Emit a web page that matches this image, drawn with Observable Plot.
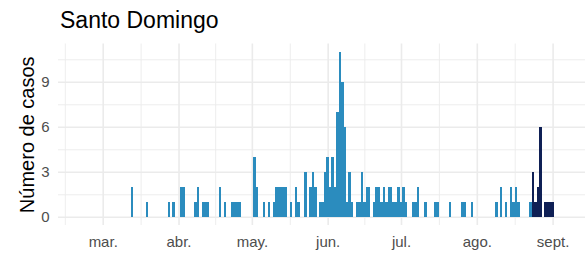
<!DOCTYPE html>
<html>
<head>
<meta charset="utf-8">
<script src="https://cdn.jsdelivr.net/npm/d3@7"></script>
<script src="https://cdn.jsdelivr.net/npm/@observablehq/plot@0.6"></script>
<style>
  html, body { margin: 0; padding: 0; background: #fff; }
  body { width: 585px; height: 256px; overflow: hidden; font-family: "Liberation Sans", Arial, sans-serif; }
  #titulo { height: 38px; box-sizing: border-box; padding: 8.8px 0 0 60px; font-size: 23px; line-height: 23px; color: #000; white-space: nowrap; }
  #grafico svg { display: block; }
</style>
</head>
<body>
<div id="titulo">Santo Domingo</div>
<div id="grafico"></div>
<script>
// ---- data ----
const fechas = [
  "2020-03-13","2020-03-19","2020-03-28","2020-03-30","2020-04-02","2020-04-03","2020-04-08","2020-04-09",
  "2020-04-11","2020-04-12","2020-04-13","2020-04-18","2020-04-20","2020-04-23","2020-04-24","2020-04-25",
  "2020-04-26","2020-05-02","2020-05-03","2020-05-06","2020-05-08","2020-05-10","2020-05-11","2020-05-12",
  "2020-05-13","2020-05-14","2020-05-15","2020-05-17","2020-05-19","2020-05-20","2020-05-23","2020-05-25",
  "2020-05-26","2020-05-27","2020-05-29","2020-05-30","2020-05-31","2020-06-01","2020-06-02","2020-06-03",
  "2020-06-04","2020-06-05","2020-06-06","2020-06-07","2020-06-08","2020-06-09","2020-06-10","2020-06-11",
  "2020-06-13","2020-06-14","2020-06-15","2020-06-16","2020-06-17","2020-06-18","2020-06-20","2020-06-21",
  "2020-06-22","2020-06-23","2020-06-24","2020-06-25","2020-06-26","2020-06-27","2020-06-28","2020-06-29",
  "2020-06-30","2020-07-01","2020-07-02","2020-07-03","2020-07-06","2020-07-07","2020-07-08","2020-07-11",
  "2020-07-15","2020-07-16","2020-07-21","2020-07-26","2020-07-27","2020-07-30","2020-08-09","2020-08-11",
  "2020-08-13","2020-08-15","2020-08-16","2020-08-17","2020-08-18","2020-08-23","2020-08-24","2020-08-25",
  "2020-08-26","2020-08-27","2020-08-29","2020-08-30","2020-08-31","2020-09-01"
];
const casos = [
  2,1,1,1,2,2,1,2,
  1,1,1,2,1,1,1,1,
  1,4,2,1,1,1,2,2,
  2,2,2,1,2,1,3,2,
  3,2,1,1,3,4,2,4,
  2,7,11,9,6,1,3,1,
  1,1,3,1,2,2,1,2,
  2,1,2,1,2,2,1,1,
  2,1,2,1,1,1,2,1,
  1,1,1,1,1,1,1,2,
  1,2,1,2,1,1,3,1,
  2,6,1,1,1,1
];
const inicioRecientes = "2020-08-24";           // darker bars from this date on
const mesesTicks = ["2020-03-01","2020-04-01","2020-05-01","2020-06-01","2020-07-01","2020-08-01","2020-09-01"];
const mesesEtiquetas = ["mar.","abr.","may.","jun.","jul.","ago.","sept."];
const yTicks = [0, 3, 6, 9];
const yMinor = [1.5, 4.5, 7.5, 10.5];
const xDominio = ["2020-02-11T17:00Z", "2020-09-14T06:00Z"];
const yDominio = [-0.55, 11.55];

// ---- build ----
const DIA = 864e5;
const datos = fechas.map((f, i) => ({fecha: new Date(f), n: casos[i], reciente: f >= inicioRecientes}));
const mayores = mesesTicks.map(d => new Date(d));
const ext = [
  new Date(+mayores[0] - (mayores[1] - mayores[0])),
  ...mayores,
  new Date(+mayores[mayores.length - 1] + (mayores[mayores.length - 1] - mayores[mayores.length - 2]))
];
const menores = d3.pairs(ext, (a, b) => new Date((+a + +b) / 2));
const etiqueta = new Map(mayores.map((d, i) => [+d, mesesEtiquetas[i]]));
const x1 = d => new Date(+d.fecha - 0.5 * DIA);
const x2 = d => new Date(+d.fecha + 0.5 * DIA);

const grid = "#ebebeb";
const chart = Plot.plot({
  width: 585,
  height: 218,
  marginLeft: 58,
  marginRight: 0,
  marginTop: 5.5,
  marginBottom: 31,
  style: {fontFamily: "'Liberation Sans', Arial, sans-serif", background: "#fff", overflow: "visible"},
  x: {type: "utc", domain: xDominio.map(d => new Date(d))},
  y: {domain: yDominio},
  marks: [
    Plot.ruleX(menores, {stroke: grid, strokeWidth: 0.9}),
    Plot.ruleY(yMinor, {stroke: grid, strokeWidth: 0.9}),
    Plot.ruleX(mayores, {stroke: grid, strokeWidth: 1.6}),
    Plot.ruleY(yTicks, {stroke: grid, strokeWidth: 1.6}),
    Plot.rectY(datos, {filter: d => !d.reciente, x1, x2, y: "n", fill: "#2b8cbe", shapeRendering: "crispEdges"}),
    Plot.rectY(datos, {filter: d => d.reciente, x1, x2, y: "n", fill: "#0f2055", shapeRendering: "crispEdges"}),
    Plot.axisX(mayores, {tickSize: 0, tickPadding: 11, tickFormat: d => etiqueta.get(+d), fontSize: 15, fill: "#4d4d4d", label: null}),
    Plot.axisY(yTicks, {tickSize: 0, tickPadding: 9, fontSize: 15, fill: "#4d4d4d", label: null}),
    Plot.text(["Número de casos"], {frameAnchor: "left", dx: -31, rotate: -90, textAnchor: "middle", lineAnchor: "middle", fontSize: 20, fill: "#000"})
  ]
});
document.getElementById("grafico").appendChild(chart);
</script>
</body>
</html>
